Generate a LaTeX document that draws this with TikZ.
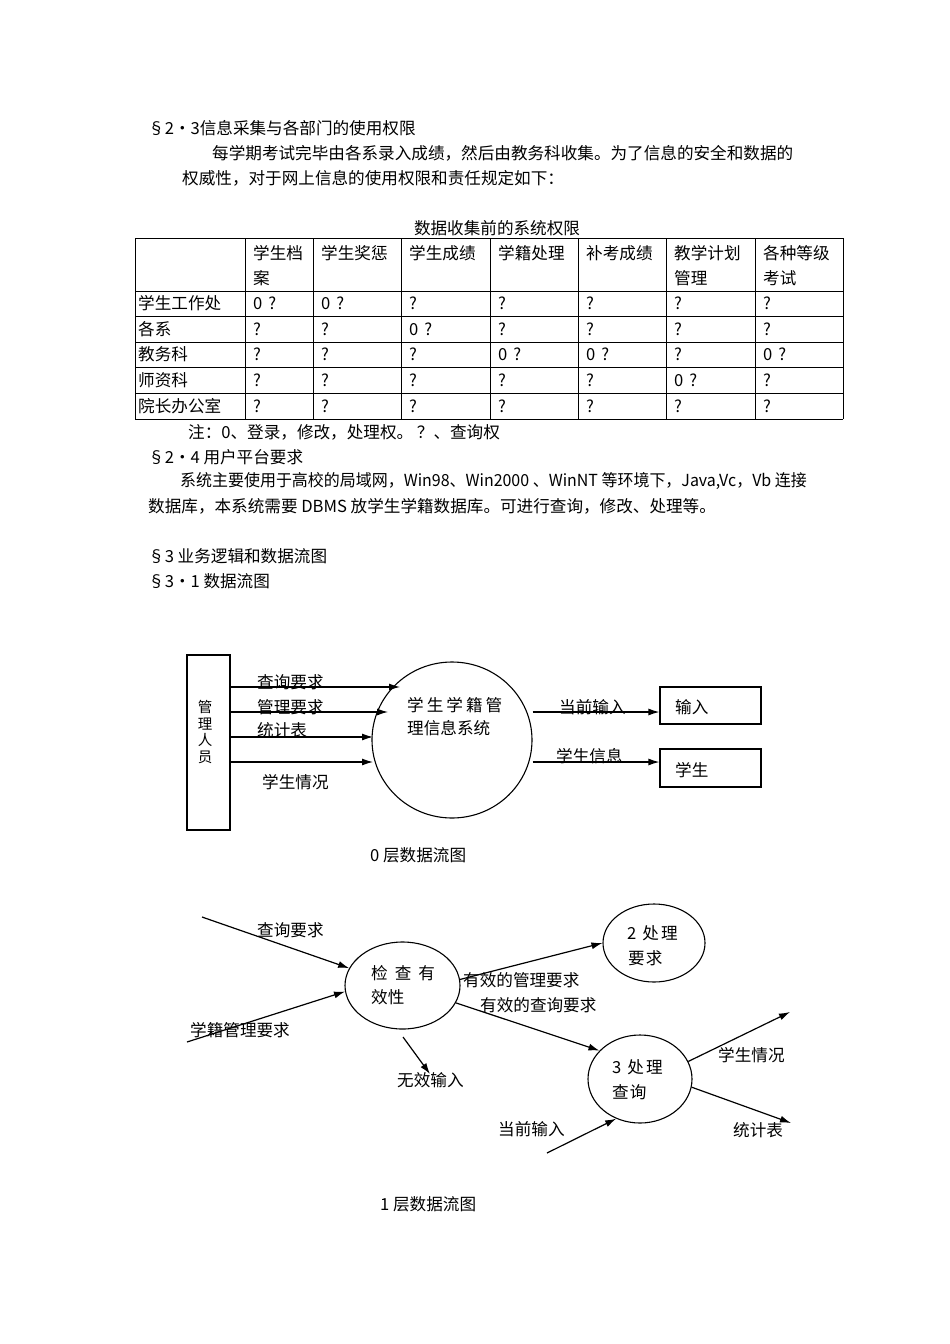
\documentclass[tikz,border=0pt]{standalone}
\usepackage{fontspec}
\usepackage{graphicx}
\setmainfont{Noto Sans CJK SC}
\usetikzlibrary{arrows.meta,shapes.geometric}
\newcommand\bodyfs{\fontsize{16.6}{20}\selectfont}
\newcommand\smallfs{\fontsize{14.5}{16.7}\selectfont}
\begin{document}
\begin{tikzpicture}[x=1pt,y=-1pt,
  txt/.style={inner sep=0pt,anchor=west,font=\bodyfs},
  tline/.style={line width=0.9pt},
  arr/.style={line width=1.2pt,-{Latex[length=11pt,width=7pt]}},
  proc/.style={draw,ellipse,line width=1.1pt,inner sep=0pt},
  ent/.style={draw,rectangle,line width=1.2pt,inner sep=0pt},
]
\fill[white] (0,0) rectangle (950,1344);
\useasboundingbox (0,0) rectangle (950,1344);

% ---------- text ----------
\node[txt] (s23) at (148,128) {§2•3信息采集与各部门的使用权限};
\node[txt] (p1a) at (212,153) {每学期考试完毕由各系录入成绩，然后由教务科收集。为了信息的安全和数据的};
\node[txt] (p1b) at (182,178) {权威性，对于网上信息的使用权限和责任规定如下：};
\node[inner sep=0pt,font=\bodyfs] (ttl) at (497,228) {数据收集前的系统权限};

% ---------- table ----------
\foreach \y in {238,291,316,342,367,393,419} \draw[tline] (135,\y) -- (843,\y);
\foreach \x in {135,245,313,401,490,578,666,755,843} \draw[tline] (\x,238) -- (\x,419);
\node[txt] (h1a) at (253,253) {学生档};
\node[txt] (h1b) at (253,278) {案};
\node[txt] (h2) at (321,253) {学生奖惩};
\node[txt] (h3) at (409,253) {学生成绩};
\node[txt] (h4) at (498,253) {学籍处理};
\node[txt] (h5) at (586,253) {补考成绩};
\node[txt] (h6a) at (674,253) {教学计划};
\node[txt] (h6b) at (674,278) {管理};
\node[txt] (h7a) at (763,253) {各种等级};
\node[txt] (h7b) at (763,278) {考试};
\foreach \t [count=\i] in {学生工作处,各系,教务科,师资科,院长办公室}
  \node[txt] (r\i) at (138,{303.5+25.6*(\i-1)}) {\t};
\foreach \row [count=\i] in {{0\hspace{6pt}?,0\hspace{6pt}?,?,?,?,?,?},{?,?,0\hspace{6pt}?,?,?,?,?},{?,?,?,0\hspace{6pt}?,0\hspace{6pt}?,?,0\hspace{6pt}?},{?,?,?,?,?,0\hspace{6pt}?,?},{?,?,?,?,?,?,?}}{
  \foreach \c [count=\j] in \row {
    \pgfmathsetmacro\cx{{253,321,409,498,586,674,763}[\j-1]}
    \node[txt] (c\i\j) at (\cx,{303.5+25.6*(\i-1)}) {\c};
  }
}

\node[txt] (note) at (188,432) {注：0、登录，修改，处理权。 ？、查询权};
\node[txt] (s24) at (148,457) {§2•4 用户平台要求};
\node[txt] (p2a) at (180,481) {\scalebox{0.962}[1]{系统主要使用于高校的局域网，Win98、Win2000 、WinNT 等环境下，Java,Vc，Vb 连接}};
\node[txt] (p2b) at (148,506) {数据库，本系统需要 DBMS 放学生学籍数据库。可进行查询，修改、处理等。};
\node[txt] (s3) at (148,556) {§3 业务逻辑和数据流图};
\node[txt] (s31) at (148,581) {§3•1 数据流图};

% ---------- level 0 ----------
\node[ent,minimum width=43pt,minimum height=175pt] (mgr) at (208.5,742.5) {};
\node[inner sep=0pt,align=center,font=\smallfs] (mgrt) at (205,732) {管\\理\\人\\员};
\node[proc,minimum width=160pt,minimum height=156pt] (sys) at (452,740) {};
\node[txt] (syst1) at (407,705) {学\hspace{3pt}生\hspace{3pt}学\hspace{3pt}籍\hspace{3pt}管};
\node[txt] (syst2) at (407,728) {理信息系统};
\node[ent,minimum width=101pt,minimum height=37pt] (inp) at (710.5,705.5) {};
\node[txt] (inpt) at (675,707) {输入};
\node[ent,minimum width=101pt,minimum height=38pt] (stu) at (710.5,768) {};
\node[txt] (stut) at (675,770) {学生};

\coordinate (q1) at (400,687);
\coordinate (q2) at (388,712);
\coordinate (q3) at (373,737);
\coordinate (q4) at (373,762);
\draw[arr] (mgr.east |- q1) -- (q1);
\draw[arr] (mgr.east |- q2) -- (q2);
\draw[arr] (mgr.east |- q3) -- (q3);
\draw[arr] (mgr.east |- q4) -- (q4);
\node[txt] (l1) at (257,682) {查询要求};
\node[txt] (l2) at (257,707) {管理要求};
\node[txt] (l3) at (257,730) {统计表};
\node[txt] (l4) at (262,782) {学生情况};

\coordinate (r1) at (0,712);
\coordinate (r2) at (0,762);
\draw[arr] (sys.east |- r1) -- (inp.west |- r1);
\draw[arr] (sys.east |- r2) -- (stu.west |- r2);
\node[txt] (l5) at (559,707) {当前输入};
\node[txt] (l6) at (556,756) {学生信息};
\node[txt] (cap0) at (370,855) {0 层数据流图};

% ---------- level 1 ----------
\node[proc,minimum width=115pt,minimum height=87pt] (chk) at (402.5,985.5) {};
\node[txt] (chkt1) at (371,973) {检\hspace{7pt}查\hspace{7pt}有};
\node[txt] (chkt2) at (371,997) {效性};
\node[proc,minimum width=102pt,minimum height=78pt] (p2) at (654,943) {};
\node[txt] (p2t1) at (627,933) {2\hspace{6pt}处\hspace{2pt}理};
\node[txt] (p2t2) at (628,958) {要\hspace{1pt}求};
\node[proc,minimum width=104pt,minimum height=88pt] (p3) at (640,1079) {};
\node[txt] (p3t1) at (612,1067) {3\hspace{6pt}处\hspace{2pt}理};
\node[txt] (p3t2) at (612,1092) {查\hspace{1pt}询};

\coordinate (a1) at (202,917);
\coordinate (a2) at (187,1042);
\coordinate (a3s) at (403,1037);
\coordinate (a3e) at (430,1074);
\coordinate (a6) at (790,1012);
\coordinate (a7) at (791,1123);
\coordinate (a8) at (547,1153);
\draw[arr] (a1) -- (chk.162);
\draw[arr] (a2) -- (chk.186);
\draw[arr] (a3s) -- (a3e);
\draw[arr] (chk.6) -- (p2.west);
\draw[arr] (chk.-18) -- (p3.145);
\draw[arr] (p3.20) -- (a6);
\draw[arr] (p3.-9) -- (a7);
\draw[arr] (a8) -- (p3.-121);

\node[txt] (m1) at (257,930) {查询要求};
\node[txt] (m2) at (190,1030) {学籍管理要求};
\node[txt] (m3) at (397,1080) {无效输入};
\node[txt] (m4) at (463,980) {有效的管理要求};
\node[txt] (m5) at (480,1005) {有效的查询要求};
\node[txt] (m6) at (718,1055) {学生情况};
\node[txt] (m7) at (733,1130) {统计表};
\node[txt] (m8) at (498,1129) {当前输入};
\node[txt] (cap1) at (380,1204) {1 层数据流图};
\end{tikzpicture}
\end{document}
